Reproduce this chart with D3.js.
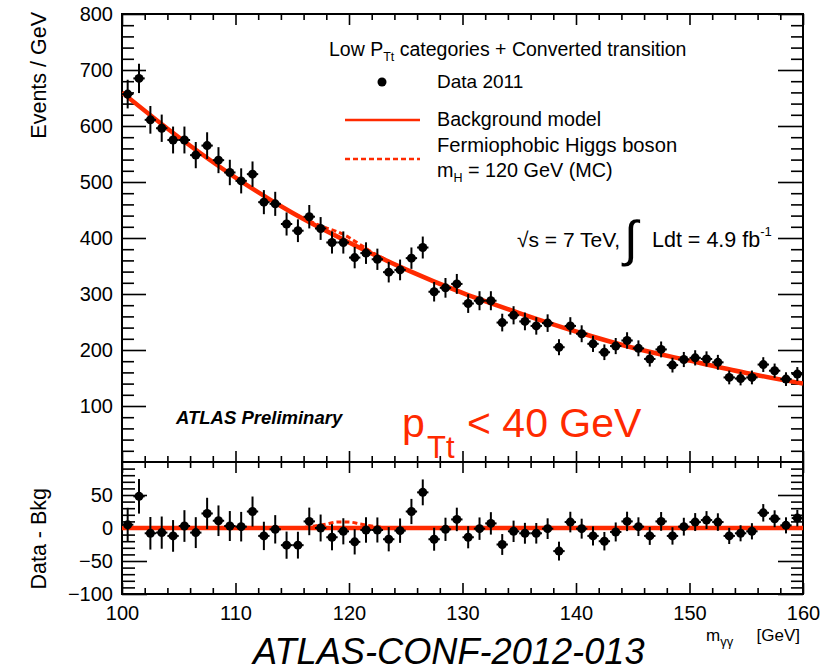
<!DOCTYPE html>
<html><head><meta charset="utf-8">
<script src="https://cdn.jsdelivr.net/npm/d3@7"></script>
<style>
body{margin:0;background:#fff}
svg{display:block}
text{font-family:"Liberation Sans",Arial,Helvetica,sans-serif;fill:#000}
</style>
</head><body>
<svg id="c" width="830" height="672"></svg>
<script>
// ---------------- data ----------------
const binCenters = [100.5,101.5,102.5,103.5,104.5,105.5,106.5,107.5,108.5,109.5,
  110.5,111.5,112.5,113.5,114.5,115.5,116.5,117.5,118.5,119.5,
  120.5,121.5,122.5,123.5,124.5,125.5,126.5,127.5,128.5,129.5,
  130.5,131.5,132.5,133.5,134.5,135.5,136.5,137.5,138.5,139.5,
  140.5,141.5,142.5,143.5,144.5,145.5,146.5,147.5,148.5,149.5,
  150.5,151.5,152.5,153.5,154.5,155.5,156.5,157.5,158.5,159.5];
const dataValues = [657,685,611,596,575,575,548,565,539,517,
  502,514,464,461,425,413,438,417,392,392,
  365,373,362,339,343,364,383,304,311,318,
  283,288,288,249,262,251,243,248,205,243,
  229,211,196,207,217,203,184,201,173,183,
  186,184,178,151,149,151,174,163,148,157];
const dataErrors = [25.6,26.2,24.7,24.4,24.0,24.0,23.4,23.8,23.2,22.7,
  22.4,22.7,21.5,21.5,20.6,20.3,20.9,20.4,19.8,19.8,
  19.1,19.3,19.0,18.4,18.5,19.1,19.6,17.4,17.6,17.8,
  16.8,17.0,17.0,15.8,16.2,15.8,15.6,15.7,14.3,15.6,
  15.1,14.5,14.0,14.4,14.7,14.2,13.6,14.2,13.2,13.5,
  13.6,13.6,13.3,12.3,12.2,12.3,13.2,12.8,12.2,12.5];
const residuals = [5,48,-8,-7,-12,3,-7,22,11,3,
  2,25,-12,-2,-26,-26,10,0,-14,-5,
  -21,-3,-3,-17,-4,25,54,-17,-2,13,
  -14,-1,7,-25,-5,-8,-8,-1,-35,9,
  -1,-12,-20,-6,10,2,-12,10,-12,2,
  9,12,9,-12,-8,-5,23,14,4,15];
const bkgMass = [100,105,110,115,120,125,130,135,140,145,150,155,160];
const bkgValues = [660,580,508,445,392,344,302,266,233,204,181,159,140];
const bkgResidual = [0,0,0,0,0,0,0,0,0,0,0,0,0];
const higgsMass = [114,115,116,117,118,119,120,121,122,123,124,125];
const higgsTopValues = [457,445,435,426,418,411,401,388,375,364,353,344];
const higgsResidual = [0,0,1,3,6,9,9,6,3,1,0,0];
const xTicks = [100,110,120,130,140,150,160];
const yTopTicks = [100,200,300,400,500,600,700,800];
const yBotTicks = [-100,-50,0,50];

// ---------------- layout ----------------
const RED = "#ff2a00";
const svg = d3.select("#c");
const L = 122, R = 803, T = 14, MID = 462, B = 594;
const x = d3.scaleLinear().domain([100,160]).range([L,R]);
const yT = d3.scaleLinear().domain([0,800]).range([MID,T]);
const yB = d3.scaleLinear().domain([-100,100]).range([B,MID]);

const defs = svg.append("defs");
defs.append("clipPath").attr("id","clipT").append("rect").attr("x",L).attr("y",T).attr("width",R-L).attr("height",MID-T);
defs.append("clipPath").attr("id","clipB").append("rect").attr("x",L).attr("y",MID).attr("width",R-L).attr("height",B-MID);

function axis(gen, tx, ty, size, values, labels, pad) {
  const a = gen.tickValues(values).tickSize(size).tickSizeOuter(0).tickPadding(labels ? pad : 0);
  if (!labels) a.tickFormat("");
  const g = svg.append("g").attr("transform",`translate(${tx},${ty})`).call(a);
  g.select(".domain").remove();
  g.selectAll("line").attr("stroke","#000").attr("stroke-width",1.6);
  g.selectAll("text").attr("font-size",20).attr("font-family","'Liberation Sans',Arial,sans-serif").attr("fill","#000");
  return g;
}
const xMinor = d3.range(100,161,2).filter(v => v % 10 !== 0);
const yTMinor = d3.range(0,801,20).filter(v => v % 100 !== 0);
const yBMinor = d3.range(-100,101,10).filter(v => v % 50 !== 0);

// top panel axes
axis(d3.axisLeft(yT), L, 0, -24, yTopTicks, true, 9);
axis(d3.axisLeft(yT), L, 0, -12, yTMinor, false);
axis(d3.axisRight(yT), R, 0, -25, yTopTicks, false);
axis(d3.axisRight(yT), R, 0, -12, yTMinor, false);
axis(d3.axisTop(x), 0, T, -11, xTicks, false);
axis(d3.axisTop(x), 0, T, -6, xMinor, false);
axis(d3.axisBottom(x), 0, MID, -11, xTicks, false);
axis(d3.axisBottom(x), 0, MID, -6, xMinor, false);
// bottom panel axes
axis(d3.axisLeft(yB), L, 0, -25, yBotTicks, true, 9);
axis(d3.axisLeft(yB), L, 0, -13, yBMinor, false);
axis(d3.axisRight(yB), R, 0, -25, [-100,-50,0,50], false);
axis(d3.axisRight(yB), R, 0, -12, yBMinor, false);
axis(d3.axisTop(x), 0, MID, -11, xTicks, false);
axis(d3.axisTop(x), 0, MID, -6, xMinor, false);
axis(d3.axisBottom(x), 0, B, -11, xTicks, true, 12);
axis(d3.axisBottom(x), 0, B, -6, xMinor, false);

// frames
svg.append("rect").attr("x",L).attr("y",T).attr("width",R-L).attr("height",MID-T)
  .attr("fill","none").attr("stroke","#000").attr("stroke-width",2);
svg.append("rect").attr("x",L).attr("y",MID).attr("width",R-L).attr("height",B-MID)
  .attr("fill","none").attr("stroke","#000").attr("stroke-width",2);

// ---------------- curves ----------------
const bkgPts = bkgMass.map((m,i)=>({m, v:bkgValues[i], r:bkgResidual[i]}));
const higgsPts = higgsMass.map((m,i)=>({m, v:higgsTopValues[i], r:higgsResidual[i]}));

const gT = svg.append("g").attr("clip-path","url(#clipT)");
const gB = svg.append("g").attr("clip-path","url(#clipB)");

gT.append("path").datum(higgsPts)
  .attr("d", d3.line().x(d=>x(d.m)).y(d=>yT(d.v)).curve(d3.curveMonotoneX))
  .attr("fill","none").attr("stroke",RED).attr("stroke-width",3).attr("stroke-dasharray","5,3");
gT.append("path").datum(bkgPts)
  .attr("d", d3.line().x(d=>x(d.m)).y(d=>yT(d.v)).curve(d3.curveMonotoneX))
  .attr("fill","none").attr("stroke",RED).attr("stroke-width",4.5);

gB.append("path").datum(higgsPts)
  .attr("d", d3.line().x(d=>x(d.m)).y(d=>yB(d.r)).curve(d3.curveMonotoneX))
  .attr("fill","none").attr("stroke",RED).attr("stroke-width",3).attr("stroke-dasharray","5,3");
gB.append("path").datum(bkgPts)
  .attr("d", d3.line().x(d=>x(d.m)).y(d=>yB(d.r)))
  .attr("fill","none").attr("stroke",RED).attr("stroke-width",4.5);

// ---------------- data points ----------------
const pts = binCenters.map((m,i)=>({m, v:dataValues[i], e:dataErrors[i], r:residuals[i]}));
function drawPoints(g, y, key) {
  const p = g.append("g").selectAll("g").data(pts).join("g");
  p.append("line").attr("x1",d=>x(d.m)).attr("x2",d=>x(d.m))
    .attr("y1",d=>y(d[key]-d.e)).attr("y2",d=>y(d[key]+d.e))
    .attr("stroke","#000").attr("stroke-width",2);
  p.append("line").attr("x1",d=>x(d.m-0.5)).attr("x2",d=>x(d.m+0.5))
    .attr("y1",d=>y(d[key])).attr("y2",d=>y(d[key]))
    .attr("stroke","#000").attr("stroke-width",2);
  p.append("circle").attr("cx",d=>x(d.m)).attr("cy",d=>y(d[key])).attr("r",4.5).attr("fill","#000");
}
drawPoints(gT, yT, "v");
drawPoints(gB, yB, "r");

// ---------------- axis titles ----------------
svg.append("text").attr("transform","translate(46,12) rotate(-90)").attr("text-anchor","end")
  .attr("font-size",21.5).text("Events / GeV");
svg.append("text").attr("transform","translate(46,488) rotate(-90)").attr("text-anchor","end")
  .attr("font-size",21.5).text("Data - Bkg");

const xt = svg.append("text").attr("x",706).attr("y",641).attr("font-size",17);
xt.append("tspan").text("m");
xt.append("tspan").attr("font-size",13).attr("dy",5).text("γγ");
svg.append("text").attr("x",800).attr("y",641).attr("font-size",17).attr("text-anchor","end").text("[GeV]");

svg.append("text").attr("x",253).attr("y",664).attr("font-size",36.2).attr("font-style","italic")
  .text("ATLAS-CONF-2012-013");

// ---------------- legend ----------------
const lt = svg.append("text").attr("x",329).attr("y",56).attr("font-size",19.5);
lt.append("tspan").text("Low P");
lt.append("tspan").attr("font-size",12.5).attr("dy",5).text("Tt");
lt.append("tspan").attr("dy",-5).text(" categories + Converted transition");

svg.append("circle").attr("cx",382).attr("cy",82).attr("r",4.5).attr("fill","#000");
svg.append("text").attr("x",437).attr("y",88).attr("font-size",19).text("Data 2011");
svg.append("line").attr("x1",345).attr("x2",420).attr("y1",120).attr("y2",120)
  .attr("stroke",RED).attr("stroke-width",2.5);
svg.append("text").attr("x",437).attr("y",126).attr("font-size",19.7).text("Background model");
svg.append("line").attr("x1",345).attr("x2",420).attr("y1",159).attr("y2",159)
  .attr("stroke",RED).attr("stroke-width",2.5).attr("stroke-dasharray","5,3");
svg.append("text").attr("x",437).attr("y",152).attr("font-size",20.2).text("Fermiophobic Higgs boson");
const mh = svg.append("text").attr("x",437).attr("y",177).attr("font-size",19.8);
mh.append("tspan").text("m");
mh.append("tspan").attr("font-size",12.5).attr("dy",5).text("H");
mh.append("tspan").attr("dy",-5).text(" = 120 GeV (MC)");

// ---------------- annotations ----------------
svg.append("text").attr("x",517).attr("y",247).attr("font-size",21).text("√s = 7 TeV,");
svg.append("text").attr("x",624).attr("y",256).attr("font-size",50).attr("font-family","'DejaVu Sans',sans-serif").text("∫");
const ld = svg.append("text").attr("x",652).attr("y",247).attr("font-size",21.5);
ld.append("tspan").text("Ldt = 4.9 fb");
ld.append("tspan").attr("font-size",13).attr("dy",-11).text("-1");

svg.append("text").attr("x",176).attr("y",424).attr("font-size",18.5)
  .attr("font-weight","bold").attr("font-style","italic").text("ATLAS Preliminary");

svg.append("text").attr("x",402).attr("y",437).attr("font-size",41).style("fill",RED).text("p");
svg.append("text").attr("x",427).attr("y",458).attr("font-size",31).style("fill",RED).text("Tt");
svg.append("text").attr("x",467).attr("y",437).attr("font-size",41).style("fill",RED).text("< 40 GeV");
</script>
</body></html>
